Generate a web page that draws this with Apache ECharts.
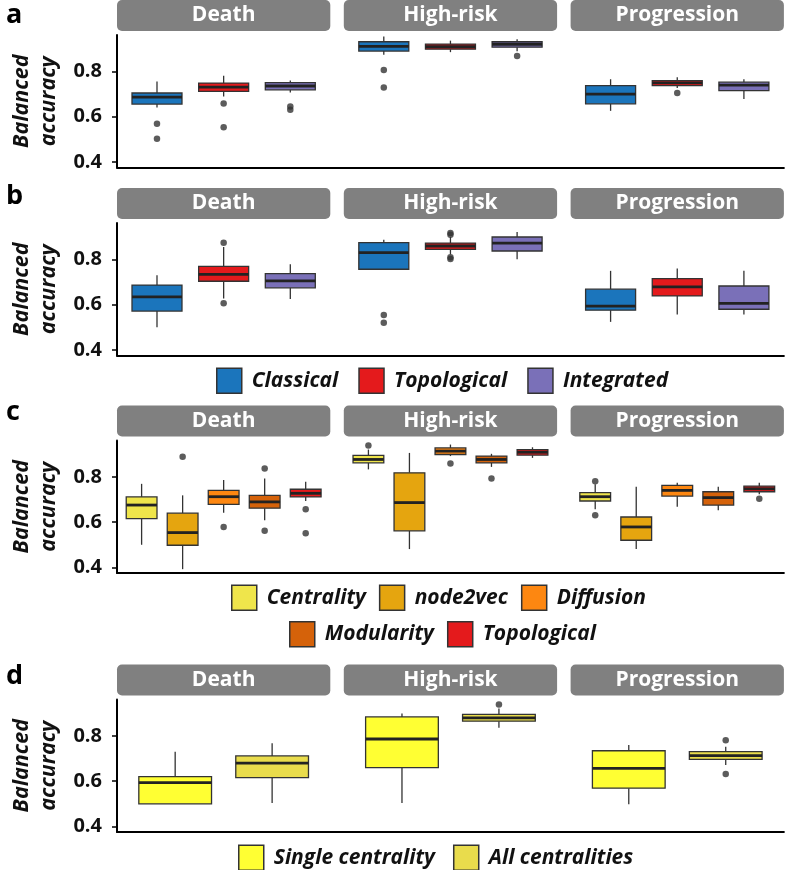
<!DOCTYPE html>
<html><head><meta charset="utf-8">
<script src="https://cdn.jsdelivr.net/npm/echarts@6/dist/echarts.min.js"></script>
<style>html,body{margin:0;padding:0;background:#fff}#c{width:786px;height:870px}</style>
</head><body><div id="c"></div>
<script>
// ---------------- DATA ----------------
const facets = ['Death', 'High-risk', 'Progression'];
const yTicks = [0.4, 0.6, 0.8];
const panelLabels = ['a', 'b', 'c', 'd'];

const methodsAB = ['Classical', 'Topological', 'Integrated'];
const methodsC = ['Centrality', 'node2vec', 'Diffusion', 'Modularity', 'Topological'];
const methodsD = ['Single centrality', 'All centralities'];

// box stats per method: [lower whisker, Q1, median, Q3, upper whisker]
// outliers: [methodIndex, value]
const aDeath = [[0.641, 0.656, 0.687, 0.705, 0.756], [0.690, 0.712, 0.731, 0.749, 0.781], [0.707, 0.719, 0.736, 0.751, 0.760]];
const aDeathOut = [[0, 0.569], [0, 0.502], [1, 0.659], [1, 0.553], [2, 0.645], [2, 0.631]];
const aHigh = [[0.874, 0.891, 0.912, 0.932, 0.955], [0.886, 0.899, 0.910, 0.922, 0.937], [0.890, 0.908, 0.921, 0.932, 0.943]];
const aHighOut = [[0, 0.807], [0, 0.729], [2, 0.869]];
const aProg = [[0.626, 0.657, 0.700, 0.738, 0.766], [0.727, 0.738, 0.750, 0.760, 0.775], [0.679, 0.716, 0.740, 0.753, 0.766]];
const aProgOut = [[1, 0.705]];

const bDeath = [[0.500, 0.572, 0.635, 0.687, 0.731], [0.628, 0.704, 0.734, 0.770, 0.856], [0.625, 0.675, 0.706, 0.738, 0.779]];
const bDeathOut = [[1, 0.875], [1, 0.606]];
const bHigh = [[0.755, 0.757, 0.831, 0.875, 0.888], [0.823, 0.845, 0.860, 0.873, 0.900], [0.801, 0.838, 0.873, 0.900, 0.922]];
const bHighOut = [[0, 0.554], [0, 0.520], [1, 0.918], [1, 0.910], [1, 0.810], [1, 0.803]];
const bProg = [[0.524, 0.576, 0.594, 0.669, 0.750], [0.557, 0.639, 0.679, 0.716, 0.760], [0.557, 0.580, 0.606, 0.683, 0.750]];
const bProgOut = [];

const cDeath = [[0.500, 0.616, 0.676, 0.712, 0.770], [0.392, 0.498, 0.554, 0.640, 0.719], [0.642, 0.679, 0.713, 0.741, 0.787], [0.609, 0.662, 0.690, 0.719, 0.794], [0.694, 0.712, 0.728, 0.746, 0.779]];
const cDeathOut = [[1, 0.890], [2, 0.579], [3, 0.838], [3, 0.562], [4, 0.657], [4, 0.551]];
const cHigh = [[0.834, 0.863, 0.878, 0.896, 0.922], [0.481, 0.562, 0.687, 0.819, 0.907], [0.893, 0.900, 0.915, 0.929, 0.944], [0.845, 0.863, 0.878, 0.893, 0.903], [0.885, 0.897, 0.910, 0.922, 0.932]];
const cHighOut = [[0, 0.940], [2, 0.860], [3, 0.794]];
const cProg = [[0.657, 0.694, 0.713, 0.731, 0.768], [0.481, 0.520, 0.579, 0.623, 0.757], [0.668, 0.716, 0.741, 0.763, 0.775], [0.653, 0.676, 0.709, 0.735, 0.757], [0.724, 0.735, 0.748, 0.760, 0.775]];
const cProgOut = [[0, 0.782], [0, 0.631], [4, 0.704]];

const dDeath = [[0.500, 0.500, 0.594, 0.620, 0.731], [0.503, 0.616, 0.680, 0.712, 0.768]];
const dDeathOut = [];
const dHigh = [[0.503, 0.660, 0.787, 0.885, 0.900], [0.837, 0.866, 0.881, 0.896, 0.922]];
const dHighOut = [[1, 0.940]];
const dProg = [[0.498, 0.569, 0.657, 0.735, 0.760], [0.672, 0.697, 0.713, 0.731, 0.753]];
const dProgOut = [[1, 0.782], [1, 0.632]];

// ---------------- STYLE / LAYOUT ----------------
const FONT = 'Open Sans';
const methodColors = {
  'Classical': '#1b75bc', 'Topological': '#e41a1c', 'Integrated': '#7a70b8',
  'Centrality': '#efe54b', 'node2vec': '#e5a50f', 'Diffusion': '#fd8711', 'Modularity': '#d5620a',
  'Single centrality': '#ffff33', 'All centralities': '#e9dc4c'
};
const YMIN = 0.375, YMAX = 0.962;
const X0 = 117, FW = 213.3, GAP = 13.5, PH = 132.5;
const panels = [
  { top: 35,    methods: methodsAB, stats: [aDeath, aHigh, aProg], outs: [aDeathOut, aHighOut, aProgOut], labelY: 15 },
  { top: 223,   methods: methodsAB, stats: [bDeath, bHigh, bProg], outs: [bDeathOut, bHighOut, bProgOut], labelY: 196 },
  { top: 440.5, methods: methodsC,  stats: [cDeath, cHigh, cProg], outs: [cDeathOut, cHighOut, cProgOut], labelY: 412 },
  { top: 699.5, methods: methodsD,  stats: [dDeath, dHigh, dProg], outs: [dDeathOut, dHighOut, dProgOut], labelY: 676 }
];
const legends = [
  { data: methodsAB, left: 216, top: 367.5, gap: 20 },
  { data: methodsC.slice(0, 3), left: 231, top: 584.5, gap: 13 },
  { data: methodsC.slice(3), left: 289, top: 621, gap: 13 },
  { data: methodsD, left: 238, top: 844.5, gap: 18 }
];

function renderBox(params, api) {
  const i = api.value(0);
  const lo = api.coord([i, api.value(1)]);
  const q1 = api.coord([i, api.value(2)]);
  const md = api.coord([i, api.value(3)]);
  const q3 = api.coord([i, api.value(4)]);
  const hi = api.coord([i, api.value(5)]);
  const bw = api.size([1, 0])[0] * 0.75;
  const cx = md[0], x0 = cx - bw / 2;
  const fill = api.visual('color');
  return {
    type: 'group', children: [
      { type: 'line', shape: { x1: cx, y1: hi[1], x2: cx, y2: q3[1] }, style: { stroke: '#333', lineWidth: 1.3 } },
      { type: 'line', shape: { x1: cx, y1: q1[1], x2: cx, y2: lo[1] }, style: { stroke: '#333', lineWidth: 1.3 } },
      { type: 'rect', shape: { x: x0, y: q3[1], width: bw, height: q1[1] - q3[1] }, style: { fill: fill, stroke: '#333', lineWidth: 1.3 } },
      { type: 'line', shape: { x1: x0, y1: md[1], x2: x0 + bw, y2: md[1] }, style: { stroke: '#222', lineWidth: 2.8 } }
    ]
  };
}

const grid = [], xAxis = [], yAxis = [], series = [], graphic = [];
panels.forEach((p, pi) => {
  // full-width axis frame grid
  const gi = grid.length;
  grid.push({ left: X0, width: 3 * FW + 2 * GAP, top: p.top, height: PH, outerBoundsMode: 'none', containLabel: false });
  xAxis.push({
    gridIndex: gi, type: 'value', min: 0, max: 1,
    axisLine: { show: true, onZero: false, lineStyle: { color: '#000', width: 2 } },
    axisTick: { show: false }, axisLabel: { show: false }, splitLine: { show: false }
  });
  yAxis.push({
    gridIndex: gi, type: 'value', min: YMIN, max: YMAX,
    axisLine: { show: true, onZero: false, lineStyle: { color: '#000', width: 2 } },
    axisTick: { show: true, length: 5, customValues: yTicks, lineStyle: { color: '#000', width: 1.5 } },
    axisLabel: { show: true, customValues: yTicks, margin: 15, formatter: v => v.toFixed(1),
      fontFamily: FONT, fontWeight: 'bold', fontSize: 20, color: '#111' },
    splitLine: { show: false },
    name: 'Balanced\naccuracy', nameLocation: 'middle', nameRotate: 90, nameGap: 55, nameMoveOverlap: false,
    nameTextStyle: { fontFamily: FONT, fontStyle: 'italic', fontWeight: 'bold', fontSize: 21.5, lineHeight: 27, color: '#111' }
  });
  const n = p.methods.length;
  const u = FW / (n + 0.2);
  facets.forEach((f, fi) => {
    const fx = X0 + fi * (FW + GAP);
    const g = grid.length;
    grid.push({ left: fx + 0.1 * u, width: n * u, top: p.top, height: PH, outerBoundsMode: 'none', containLabel: false });
    xAxis.push({ gridIndex: g, type: 'category', data: p.methods, show: false, boundaryGap: true });
    yAxis.push({ gridIndex: g, type: 'value', min: YMIN, max: YMAX, show: false, splitLine: { show: false } });
    p.methods.forEach((m, mi) => {
      series.push({
        type: 'custom', name: m, xAxisIndex: g, yAxisIndex: g,
        renderItem: renderBox,
        itemStyle: { color: methodColors[m], borderColor: '#333', borderWidth: 1.3 },
        encode: { x: 0, y: [1, 2, 3, 4, 5] },
        data: [[mi].concat(p.stats[fi][mi])],
        silent: true, z: 3
      });
    });
    series.push({
      type: 'scatter', name: 'outliers', xAxisIndex: g, yAxisIndex: g,
      data: p.outs[fi], symbolSize: 6.5, itemStyle: { color: '#333' }, silent: true, z: 2
    });
    // facet strip
    graphic.push({
      type: 'rect', left: fx, top: p.top - 35, shape: { width: FW, height: 31, r: 5 },
      style: { fill: '#808080' }, silent: true
    });
    graphic.push({
      type: 'text', x: fx + FW / 2, y: p.top - 35 + 15.5,
      style: { text: f, fill: '#fff', font: 'bold 21px "' + FONT + '"', textAlign: 'center', textVerticalAlign: 'middle' },
      silent: true
    });
  });
  graphic.push({
    type: 'text', x: 6, y: p.labelY,
    style: { text: panelLabels[pi], fill: '#000', font: 'bold 27px "' + FONT + '"', textAlign: 'left', textVerticalAlign: 'middle' },
    silent: true
  });
});

const legend = legends.map(l => ({
  data: l.data, left: l.left, top: l.top, orient: 'horizontal', padding: 0,
  icon: 'rect', itemWidth: 25, itemHeight: 25, itemGap: l.gap, selectedMode: false,
  itemStyle: { borderColor: '#333', borderWidth: 1.5 },
  textStyle: { fontFamily: FONT, fontStyle: 'italic', fontWeight: 'bold', fontSize: 21, color: '#111', padding: [0, 0, 0, 5] }
}));

const chart = echarts.init(document.getElementById('c'), null, { renderer: 'canvas' });
chart.setOption({
  animation: false,
  backgroundColor: '#fff',
  grid, xAxis, yAxis, series, legend, graphic
});
</script></body></html>
